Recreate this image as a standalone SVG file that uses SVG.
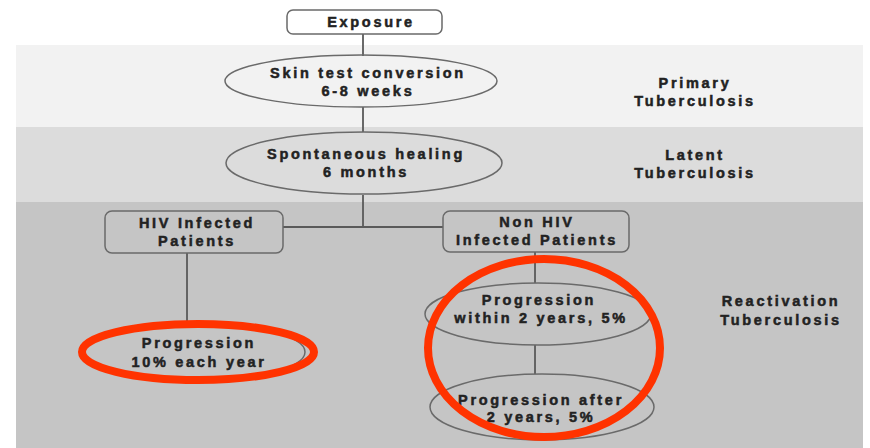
<svg xmlns="http://www.w3.org/2000/svg" width="870" height="448" viewBox="0 0 870 448">
<style>
.t{font-family:"Liberation Sans",Arial,sans-serif;font-weight:bold;font-size:14.5px;fill:#222;text-anchor:middle;letter-spacing:2.7px;stroke:#222;stroke-width:0.5}
.n{fill:none;stroke:#6a6a6a;stroke-width:1.5}
.c{stroke:#5a5a5a;stroke-width:1.8;fill:none}
.red{fill:none;stroke:#ff3300;stroke-width:8}
</style>
<rect x="0" y="0" width="870" height="448" fill="#ffffff"/>
<rect x="16" y="45" width="847" height="82" fill="#f2f2f2"/>
<rect x="16" y="127" width="847" height="75" fill="#dcdcdc"/>
<rect x="16" y="202" width="847" height="246" fill="#c5c5c5"/>
<g id="connectors">
<line class="c" x1="363" y1="34" x2="363" y2="56"/>
<line class="c" x1="363" y1="107" x2="363" y2="132"/>
<line class="c" x1="363" y1="195" x2="363" y2="227"/>
<line class="c" x1="283" y1="227" x2="443" y2="227"/>
<line class="c" x1="187" y1="253" x2="187" y2="323"/>
<line class="c" x1="535" y1="252" x2="535" y2="283"/>
<line class="c" x1="535" y1="345" x2="535" y2="374"/>
</g>
<g id="exposure">
<rect class="n" x="287" y="10" width="155" height="24" rx="6"/>
<text class="t" x="371" y="27">Exposure</text>
</g>
<g id="skin-test">
<ellipse class="n" cx="361" cy="81" rx="136" ry="26"/>
<text class="t" x="368" y="78">Skin test conversion</text>
<text class="t" x="368" y="96">6-8 weeks</text>
</g>
<g id="spontaneous">
<ellipse class="n" cx="364" cy="163" rx="138" ry="31"/>
<text class="t" x="366" y="159">Spontaneous healing</text>
<text class="t" x="366" y="177">6 months</text>
</g>
<g id="hiv">
<rect class="n" x="105" y="211" width="178" height="42" rx="7"/>
<text class="t" x="197" y="228">HIV Infected</text>
<text class="t" x="197" y="246">Patients</text>
</g>
<g id="non-hiv">
<rect class="n" x="443" y="211" width="186" height="41" rx="7"/>
<text class="t" x="537" y="227">Non HIV</text>
<text class="t" x="537" y="245">Infected Patients</text>
</g>
<g id="prog-10">
<ellipse class="n" cx="193" cy="352" rx="112" ry="29"/>
<text class="t" x="199" y="348">Progression</text>
<text class="t" x="199" y="367">10% each year</text>
</g>
<g id="prog-within">
<ellipse class="n" cx="538" cy="314" rx="113" ry="31"/>
<text class="t" x="539" y="305">Progression</text>
<text class="t" x="541" y="323">within 2 years, 5%</text>
</g>
<g id="prog-after">
<ellipse class="n" cx="542" cy="407" rx="112" ry="33"/>
<text class="t" x="541" y="405">Progression after</text>
<text class="t" x="541" y="422">2 years, 5%</text>
</g>
<g id="labels">
<text class="t" x="695" y="88">Primary</text>
<text class="t" x="695" y="106">Tuberculosis</text>
<text class="t" x="695" y="160">Latent</text>
<text class="t" x="695" y="178">Tuberculosis</text>
<text class="t" x="781" y="306">Reactivation</text>
<text class="t" x="781" y="325">Tuberculosis</text>
</g>
<g id="highlights">
<ellipse class="red" cx="198" cy="352" rx="116" ry="28"/>
<ellipse class="red" cx="544" cy="348" rx="116" ry="89"/>
</g>
</svg>
